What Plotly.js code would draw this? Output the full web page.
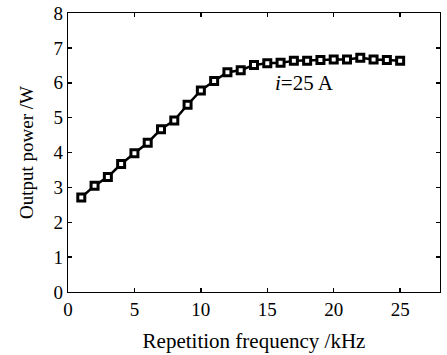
<!DOCTYPE html>
<html>
<head>
<meta charset="utf-8">
<script src="https://cdn.plot.ly/plotly-3.0.1.min.js"></script>
<style>html,body{margin:0;padding:0;background:#fff;}#chart{width:447px;height:355px;}</style>
</head>
<body>
<div id="chart"></div>
<script>
const frequency = [1,2,3,4,5,6,7,8,9,10,11,12,13,14,15,16,17,18,19,20,21,22,23,24,25];
const outputPower = [2.71,3.05,3.30,3.67,3.98,4.28,4.67,4.92,5.37,5.78,6.05,6.30,6.36,6.51,6.56,6.57,6.63,6.63,6.65,6.67,6.67,6.72,6.67,6.65,6.63];
const xTicks = [0,5,10,15,20,25];
const yTicks = [0,1,2,3,4,5,6,7,8];

const font = "Liberation Serif, Times New Roman, serif";

const trace = {
  x: frequency, y: outputPower, type: 'scatter', mode: 'lines+markers',
  line: {color: '#000', width: 2.5},
  marker: {symbol: 'square', size: 7, color: '#fff', line: {color: '#000', width: 3}},
  showlegend: false
};

const axisCommon = {
  showline: true, mirror: 'ticks', linecolor: '#000', linewidth: 1.2,
  ticks: 'inside', ticklen: 4, tickwidth: 1.5, tickcolor: '#000',
  showgrid: false, zeroline: false,
  tickfont: {family: font, size: 19, color: '#000'}
};

const layout = {
  width: 447, height: 355,
  margin: {l: 68, r: 7, t: 13, b: 63},
  paper_bgcolor: '#fff', plot_bgcolor: '#fff',
  font: {family: font, color: '#000'},
  xaxis: Object.assign({}, axisCommon, {
    range: [0, 28], tickvals: xTicks, ticktext: xTicks.map(String),
    title: {text: 'Repetition frequency /kHz', font: {family: font, size: 21, color: '#000'}, standoff: 14}
  }),
  yaxis: Object.assign({}, axisCommon, {
    range: [0, 8], tickvals: yTicks, ticktext: yTicks.map(String),
    title: {text: 'Output power /W', font: {family: font, size: 19, color: '#000'}, standoff: 14}
  }),
  annotations: [{
    x: 17.8, y: 6.0, xref: 'x', yref: 'y', showarrow: false,
    text: '<i>i</i>=25 A', font: {family: font, size: 21, color: '#000'}
  }]
};

Plotly.newPlot('chart', [trace], layout, {displayModeBar: false, staticPlot: true});
</script>
</body>
</html>
